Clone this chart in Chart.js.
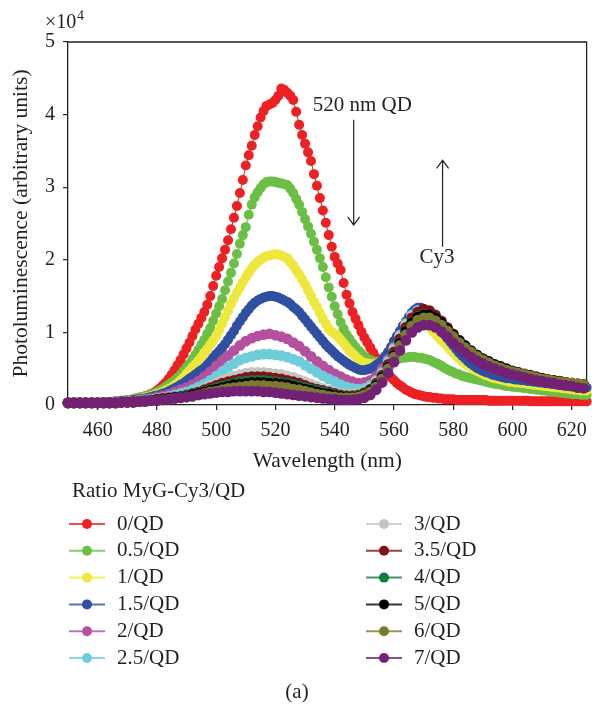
<!DOCTYPE html>
<html>
<head>
<meta charset="utf-8">
<script src="https://cdn.jsdelivr.net/npm/chart.js@4.4.1/dist/chart.umd.min.js"></script>
<style>
  html, body { margin: 0; padding: 0; background: #fff; }
  canvas { display: block; }
</style>
</head>
<body>
<canvas id="plChart" width="592" height="709"></canvas>
<script>
// Emission wavelengths (nm): 1 nm steps for the strong QD spectra, 2 nm for the rest
const wavelengthsFine = [
  450, 451, 452, 453, 454, 455, 456, 457, 458, 459,
  460, 461, 462, 463, 464, 465, 466, 467, 468, 469,
  470, 471, 472, 473, 474, 475, 476, 477, 478, 479,
  480, 481, 482, 483, 484, 485, 486, 487, 488, 489,
  490, 491, 492, 493, 494, 495, 496, 497, 498, 499,
  500, 501, 502, 503, 504, 505, 506, 507, 508, 509,
  510, 511, 512, 513, 514, 515, 516, 517, 518, 519,
  520, 521, 522, 523, 524, 525, 526, 527, 528, 529,
  530, 531, 532, 533, 534, 535, 536, 537, 538, 539,
  540, 541, 542, 543, 544, 545, 546, 547, 548, 549,
  550, 551, 552, 553, 554, 555, 556, 557, 558, 559,
  560, 561, 562, 563, 564, 565, 566, 567, 568, 569,
  570, 571, 572, 573, 574, 575, 576, 577, 578, 579,
  580, 581, 582, 583, 584, 585, 586, 587, 588, 589,
  590, 591, 592, 593, 594, 595, 596, 597, 598, 599,
  600, 601, 602, 603, 604, 605, 606, 607, 608, 609,
  610, 611, 612, 613, 614, 615, 616, 617, 618, 619,
  620, 621, 622, 623, 624, 625
];
const wavelengths = [
  450, 452, 454, 456, 458, 460, 462, 464, 466, 468,
  470, 472, 474, 476, 478, 480, 482, 484, 486, 488,
  490, 492, 494, 496, 498, 500, 502, 504, 506, 508,
  510, 512, 514, 516, 518, 520, 522, 524, 526, 528,
  530, 532, 534, 536, 538, 540, 542, 544, 546, 548,
  550, 552, 554, 556, 558, 560, 562, 564, 566, 568,
  570, 572, 574, 576, 578, 580, 582, 584, 586, 588,
  590, 592, 594, 596, 598, 600, 602, 604, 606, 608,
  610, 612, 614, 616, 618, 620, 622, 624
];

// Photoluminescence, in units of 10^4 (1 nm grid)
const pl0 = [
  0.03, 0.03, 0.03, 0.03, 0.03, 0.03, 0.03, 0.03, 0.03, 0.03,
  0.03, 0.03, 0.04, 0.04, 0.04, 0.04, 0.05, 0.05, 0.06, 0.06,
  0.07, 0.07, 0.08, 0.09, 0.10, 0.11, 0.12, 0.13, 0.15, 0.17,
  0.20, 0.23, 0.27, 0.31, 0.36, 0.42, 0.48, 0.55, 0.62, 0.70,
  0.78, 0.86, 0.95, 1.04, 1.12, 1.20, 1.28, 1.38, 1.50, 1.64,
  1.78, 1.90, 2.02, 2.14, 2.27, 2.42, 2.58, 2.74, 2.92, 3.10,
  3.30, 3.44, 3.57, 3.72, 3.84, 3.96, 4.05, 4.12, 4.14, 4.16,
  4.20, 4.26, 4.36, 4.34, 4.30, 4.26, 4.20, 4.04, 3.86, 3.72,
  3.60, 3.48, 3.36, 3.18, 3.02, 2.85, 2.68, 2.51, 2.34, 2.18,
  2.04, 1.95, 1.86, 1.68, 1.52, 1.40, 1.28, 1.19, 1.10, 1.01,
  0.93, 0.86, 0.79, 0.72, 0.65, 0.59, 0.53, 0.48, 0.43, 0.38,
  0.34, 0.30, 0.27, 0.24, 0.21, 0.19, 0.17, 0.15, 0.14, 0.13,
  0.12, 0.11, 0.11, 0.10, 0.10, 0.09, 0.09, 0.08, 0.08, 0.08,
  0.08, 0.07, 0.07, 0.07, 0.07, 0.07, 0.07, 0.07, 0.07, 0.07,
  0.07, 0.07, 0.06, 0.06, 0.06, 0.06, 0.06, 0.06, 0.06, 0.06,
  0.06, 0.06, 0.06, 0.06, 0.06, 0.06, 0.05, 0.05, 0.05, 0.05,
  0.05, 0.05, 0.05, 0.05, 0.05, 0.05, 0.05, 0.05, 0.05, 0.05,
  0.05, 0.05, 0.05, 0.05, 0.05, 0.05
];
const pl05 = [
  0.03, 0.03, 0.03, 0.03, 0.03, 0.03, 0.03, 0.03, 0.03, 0.03,
  0.03, 0.03, 0.04, 0.04, 0.04, 0.04, 0.05, 0.05, 0.06, 0.06,
  0.07, 0.07, 0.08, 0.09, 0.10, 0.11, 0.12, 0.13, 0.15, 0.16,
  0.18, 0.20, 0.22, 0.25, 0.28, 0.31, 0.34, 0.38, 0.42, 0.47,
  0.52, 0.57, 0.63, 0.69, 0.76, 0.83, 0.90, 0.98, 1.06, 1.16,
  1.26, 1.36, 1.46, 1.58, 1.70, 1.82, 1.95, 2.08, 2.22, 2.34,
  2.45, 2.62, 2.76, 2.86, 2.93, 2.99, 3.04, 3.07, 3.08, 3.08,
  3.07, 3.06, 3.05, 3.04, 3.03, 2.98, 2.92, 2.84, 2.76, 2.66,
  2.56, 2.46, 2.36, 2.25, 2.14, 2.02, 1.90, 1.76, 1.62, 1.49,
  1.36, 1.25, 1.14, 1.05, 0.97, 0.91, 0.85, 0.80, 0.75, 0.71,
  0.67, 0.64, 0.62, 0.60, 0.59, 0.59, 0.59, 0.59, 0.60, 0.61,
  0.62, 0.63, 0.64, 0.65, 0.65, 0.66, 0.66, 0.66, 0.65, 0.65,
  0.64, 0.63, 0.62, 0.60, 0.58, 0.56, 0.54, 0.51, 0.49, 0.47,
  0.45, 0.43, 0.42, 0.40, 0.39, 0.38, 0.37, 0.36, 0.35, 0.34,
  0.33, 0.32, 0.31, 0.30, 0.29, 0.29, 0.28, 0.27, 0.26, 0.26,
  0.25, 0.25, 0.24, 0.24, 0.23, 0.23, 0.22, 0.22, 0.21, 0.21,
  0.20, 0.20, 0.19, 0.19, 0.18, 0.18, 0.17, 0.17, 0.16, 0.16,
  0.15, 0.15, 0.15, 0.14, 0.14, 0.14
];
const pl1 = [
  0.03, 0.03, 0.03, 0.03, 0.03, 0.03, 0.03, 0.03, 0.03, 0.03,
  0.03, 0.03, 0.03, 0.03, 0.04, 0.04, 0.04, 0.04, 0.05, 0.05,
  0.06, 0.06, 0.07, 0.07, 0.08, 0.09, 0.10, 0.11, 0.12, 0.13,
  0.15, 0.16, 0.18, 0.20, 0.22, 0.24, 0.27, 0.30, 0.34, 0.38,
  0.43, 0.47, 0.52, 0.56, 0.61, 0.66, 0.72, 0.77, 0.83, 0.89,
  0.95, 1.03, 1.12, 1.21, 1.30, 1.39, 1.47, 1.55, 1.62, 1.69,
  1.76, 1.82, 1.88, 1.93, 1.97, 2.00, 2.03, 2.05, 2.06, 2.07,
  2.08, 2.07, 2.06, 2.04, 2.02, 1.97, 1.92, 1.86, 1.80, 1.73,
  1.66, 1.58, 1.50, 1.42, 1.35, 1.27, 1.19, 1.12, 1.05, 1.01,
  0.98, 0.94, 0.90, 0.85, 0.80, 0.75, 0.71, 0.67, 0.63, 0.60,
  0.58, 0.57, 0.56, 0.56, 0.57, 0.59, 0.62, 0.66, 0.70, 0.76,
  0.82, 0.89, 0.96, 1.03, 1.10, 1.15, 1.20, 1.22, 1.24, 1.22,
  1.18, 1.12, 1.07, 1.02, 0.98, 0.93, 0.89, 0.85, 0.81, 0.76,
  0.72, 0.68, 0.64, 0.60, 0.57, 0.54, 0.52, 0.49, 0.47, 0.45,
  0.43, 0.41, 0.40, 0.38, 0.37, 0.36, 0.35, 0.34, 0.33, 0.32,
  0.32, 0.31, 0.31, 0.30, 0.30, 0.29, 0.29, 0.28, 0.28, 0.27,
  0.27, 0.26, 0.26, 0.25, 0.25, 0.24, 0.24, 0.23, 0.23, 0.22,
  0.22, 0.21, 0.21, 0.20, 0.20, 0.20
];
const pl15 = [
  0.03, 0.03, 0.03, 0.03, 0.03, 0.03, 0.03, 0.03, 0.03, 0.03,
  0.03, 0.03, 0.03, 0.03, 0.04, 0.04, 0.04, 0.04, 0.05, 0.05,
  0.06, 0.06, 0.07, 0.07, 0.08, 0.08, 0.09, 0.10, 0.11, 0.12,
  0.13, 0.14, 0.16, 0.17, 0.19, 0.21, 0.23, 0.25, 0.28, 0.30,
  0.33, 0.36, 0.39, 0.42, 0.45, 0.48, 0.51, 0.55, 0.60, 0.65,
  0.70, 0.74, 0.79, 0.84, 0.90, 0.96, 1.02, 1.09, 1.15, 1.21,
  1.27, 1.32, 1.37, 1.41, 1.44, 1.46, 1.48, 1.49, 1.50, 1.50,
  1.49, 1.48, 1.46, 1.44, 1.42, 1.39, 1.35, 1.32, 1.28, 1.23,
  1.18, 1.13, 1.08, 1.03, 0.98, 0.93, 0.88, 0.83, 0.79, 0.75,
  0.71, 0.67, 0.64, 0.61, 0.58, 0.55, 0.53, 0.51, 0.49, 0.48,
  0.48, 0.49, 0.50, 0.52, 0.55, 0.58, 0.62, 0.67, 0.73, 0.80,
  0.88, 0.95, 1.02, 1.09, 1.15, 1.21, 1.27, 1.31, 1.34, 1.34,
  1.32, 1.27, 1.22, 1.17, 1.12, 1.07, 1.02, 0.97, 0.92, 0.87,
  0.82, 0.77, 0.72, 0.68, 0.64, 0.60, 0.57, 0.54, 0.51, 0.49,
  0.47, 0.45, 0.44, 0.42, 0.41, 0.40, 0.39, 0.38, 0.37, 0.37,
  0.36, 0.35, 0.35, 0.34, 0.34, 0.33, 0.33, 0.32, 0.32, 0.31,
  0.31, 0.30, 0.30, 0.29, 0.29, 0.28, 0.28, 0.27, 0.27, 0.26,
  0.26, 0.25, 0.25, 0.24, 0.24, 0.24
];

// Photoluminescence, in units of 10^4 (2 nm grid)
const pl2 = [
  0.03, 0.03, 0.03, 0.03, 0.03, 0.03, 0.03, 0.03, 0.04, 0.04,
  0.05, 0.06, 0.07, 0.08, 0.09, 0.11, 0.13, 0.15, 0.18, 0.21,
  0.24, 0.28, 0.33, 0.39, 0.46, 0.54, 0.61, 0.68, 0.75, 0.82,
  0.88, 0.92, 0.95, 0.97, 0.98, 0.96, 0.94, 0.91, 0.86, 0.81,
  0.74, 0.67, 0.60, 0.54, 0.48, 0.43, 0.39, 0.35, 0.32, 0.30,
  0.31, 0.34, 0.40, 0.50, 0.63, 0.80, 0.97, 1.12, 1.24, 1.30,
  1.30, 1.26, 1.19, 1.10, 1.01, 0.92, 0.84, 0.76, 0.70, 0.64,
  0.59, 0.55, 0.51, 0.48, 0.45, 0.43, 0.41, 0.39, 0.37, 0.35,
  0.34, 0.32, 0.31, 0.30, 0.29, 0.28, 0.27, 0.26
];
const pl25 = [
  0.03, 0.03, 0.03, 0.03, 0.03, 0.03, 0.03, 0.03, 0.04, 0.04,
  0.05, 0.05, 0.06, 0.07, 0.08, 0.09, 0.10, 0.12, 0.14, 0.16,
  0.18, 0.21, 0.25, 0.29, 0.34, 0.40, 0.46, 0.52, 0.57, 0.62,
  0.65, 0.67, 0.69, 0.70, 0.70, 0.69, 0.68, 0.66, 0.63, 0.60,
  0.55, 0.50, 0.45, 0.40, 0.36, 0.32, 0.28, 0.25, 0.23, 0.22,
  0.23, 0.27, 0.34, 0.45, 0.60, 0.78, 0.96, 1.12, 1.24, 1.30,
  1.31, 1.27, 1.20, 1.11, 1.02, 0.93, 0.85, 0.77, 0.71, 0.65,
  0.60, 0.56, 0.52, 0.49, 0.46, 0.44, 0.42, 0.40, 0.38, 0.36,
  0.35, 0.33, 0.32, 0.31, 0.30, 0.29, 0.28, 0.27
];
const pl3 = [
  0.03, 0.03, 0.03, 0.03, 0.03, 0.03, 0.03, 0.03, 0.03, 0.04,
  0.04, 0.05, 0.05, 0.06, 0.07, 0.08, 0.09, 0.10, 0.11, 0.12,
  0.14, 0.17, 0.20, 0.23, 0.27, 0.30, 0.34, 0.37, 0.40, 0.42,
  0.44, 0.45, 0.45, 0.45, 0.44, 0.43, 0.42, 0.40, 0.38, 0.35,
  0.32, 0.29, 0.26, 0.23, 0.20, 0.18, 0.16, 0.15, 0.15, 0.16,
  0.19, 0.24, 0.32, 0.43, 0.58, 0.76, 0.94, 1.10, 1.22, 1.28,
  1.30, 1.27, 1.21, 1.13, 1.04, 0.95, 0.87, 0.80, 0.73, 0.67,
  0.62, 0.58, 0.54, 0.51, 0.48, 0.45, 0.43, 0.41, 0.39, 0.37,
  0.36, 0.34, 0.33, 0.32, 0.31, 0.30, 0.29, 0.28
];
const pl35 = [
  0.03, 0.03, 0.03, 0.03, 0.03, 0.03, 0.03, 0.03, 0.03, 0.04,
  0.04, 0.05, 0.05, 0.06, 0.07, 0.08, 0.09, 0.10, 0.11, 0.12,
  0.14, 0.16, 0.18, 0.21, 0.24, 0.27, 0.30, 0.32, 0.34, 0.36,
  0.38, 0.39, 0.39, 0.39, 0.38, 0.37, 0.36, 0.34, 0.32, 0.30,
  0.27, 0.24, 0.22, 0.20, 0.18, 0.16, 0.14, 0.13, 0.13, 0.14,
  0.17, 0.22, 0.30, 0.41, 0.56, 0.73, 0.91, 1.07, 1.20, 1.28,
  1.32, 1.30, 1.24, 1.16, 1.07, 0.98, 0.89, 0.81, 0.74, 0.68,
  0.63, 0.59, 0.55, 0.52, 0.49, 0.46, 0.44, 0.42, 0.40, 0.38,
  0.36, 0.35, 0.33, 0.32, 0.31, 0.30, 0.29, 0.28
];
const pl4 = [
  0.03, 0.03, 0.03, 0.03, 0.03, 0.03, 0.03, 0.03, 0.03, 0.04,
  0.04, 0.04, 0.05, 0.06, 0.06, 0.07, 0.08, 0.09, 0.10, 0.11,
  0.13, 0.15, 0.17, 0.19, 0.21, 0.24, 0.26, 0.28, 0.30, 0.32,
  0.33, 0.34, 0.34, 0.34, 0.33, 0.32, 0.31, 0.30, 0.28, 0.26,
  0.24, 0.22, 0.20, 0.18, 0.16, 0.14, 0.13, 0.12, 0.12, 0.13,
  0.16, 0.21, 0.28, 0.39, 0.53, 0.69, 0.86, 1.02, 1.14, 1.22,
  1.25, 1.24, 1.19, 1.12, 1.04, 0.96, 0.88, 0.80, 0.73, 0.67,
  0.62, 0.58, 0.54, 0.51, 0.48, 0.45, 0.43, 0.41, 0.39, 0.37,
  0.35, 0.34, 0.32, 0.31, 0.30, 0.29, 0.28, 0.27
];
const pl5 = [
  0.03, 0.03, 0.03, 0.03, 0.03, 0.03, 0.03, 0.03, 0.03, 0.04,
  0.04, 0.04, 0.05, 0.05, 0.06, 0.07, 0.08, 0.09, 0.10, 0.11,
  0.12, 0.14, 0.16, 0.18, 0.20, 0.22, 0.24, 0.26, 0.28, 0.29,
  0.30, 0.31, 0.31, 0.31, 0.30, 0.30, 0.29, 0.28, 0.26, 0.24,
  0.22, 0.20, 0.18, 0.16, 0.15, 0.13, 0.12, 0.11, 0.11, 0.12,
  0.15, 0.20, 0.27, 0.38, 0.52, 0.68, 0.85, 1.01, 1.13, 1.21,
  1.24, 1.24, 1.20, 1.13, 1.05, 0.97, 0.89, 0.82, 0.75, 0.69,
  0.64, 0.60, 0.56, 0.53, 0.50, 0.47, 0.45, 0.43, 0.41, 0.39,
  0.37, 0.35, 0.34, 0.33, 0.31, 0.30, 0.29, 0.28
];
const pl6 = [
  0.03, 0.03, 0.03, 0.03, 0.03, 0.03, 0.03, 0.03, 0.03, 0.04,
  0.04, 0.04, 0.05, 0.05, 0.06, 0.06, 0.07, 0.08, 0.09, 0.10,
  0.11, 0.12, 0.14, 0.16, 0.18, 0.19, 0.21, 0.23, 0.24, 0.25,
  0.26, 0.27, 0.27, 0.27, 0.26, 0.26, 0.25, 0.24, 0.22, 0.21,
  0.19, 0.17, 0.15, 0.14, 0.12, 0.11, 0.10, 0.10, 0.10, 0.11,
  0.14, 0.18, 0.25, 0.36, 0.50, 0.66, 0.82, 0.97, 1.09, 1.17,
  1.20, 1.20, 1.16, 1.10, 1.02, 0.94, 0.86, 0.79, 0.73, 0.67,
  0.62, 0.58, 0.54, 0.51, 0.48, 0.46, 0.44, 0.42, 0.40, 0.38,
  0.36, 0.35, 0.33, 0.32, 0.31, 0.30, 0.29, 0.28
];
const pl7 = [
  0.03, 0.03, 0.03, 0.03, 0.03, 0.03, 0.03, 0.03, 0.03, 0.04,
  0.04, 0.04, 0.05, 0.05, 0.06, 0.06, 0.07, 0.08, 0.09, 0.10,
  0.11, 0.12, 0.14, 0.15, 0.16, 0.17, 0.18, 0.18, 0.19, 0.19,
  0.19, 0.19, 0.19, 0.18, 0.18, 0.17, 0.16, 0.15, 0.14, 0.13,
  0.12, 0.11, 0.10, 0.09, 0.08, 0.08, 0.07, 0.07, 0.07, 0.08,
  0.10, 0.14, 0.21, 0.31, 0.44, 0.59, 0.75, 0.89, 1.00, 1.07,
  1.10, 1.10, 1.07, 1.01, 0.94, 0.86, 0.79, 0.72, 0.66, 0.61,
  0.57, 0.53, 0.50, 0.47, 0.44, 0.42, 0.40, 0.38, 0.36, 0.34,
  0.33, 0.31, 0.30, 0.28, 0.27, 0.26, 0.24, 0.23
];

const seriesLabels = ['0/QD', '0.5/QD', '1/QD', '1.5/QD', '2/QD', '2.5/QD',
                      '3/QD', '3.5/QD', '4/QD', '5/QD', '6/QD', '7/QD'];
const seriesValues = [pl0, pl05, pl1, pl15, pl2, pl25, pl3, pl35, pl4, pl5, pl6, pl7];
const seriesGrid = [wavelengthsFine, wavelengthsFine, wavelengthsFine, wavelengthsFine,
                    wavelengths, wavelengths, wavelengths, wavelengths,
                    wavelengths, wavelengths, wavelengths, wavelengths];
const seriesColors = ['#ed2024', '#6cbf45', '#efe83c', '#2f4fa2', '#b5509f', '#6dcdd9',
                      '#c4c4c4', '#7d1315', '#127c3d', '#000000', '#7b7b30', '#732174'];

const xTickValues = [460, 480, 500, 520, 540, 560, 580, 600, 620];
const yTickValues = [0, 1, 2, 3, 4, 5];

// text notes and arrows, in data units (nm, x10^4)
const qdNote = { text: '520 nm QD', x: 532.6, y: 4.13 };
const cy3Note = { text: 'Cy3', x: 568.6, y: 2.03 };
const qdArrow = { x: 546.4, from: 3.93, to: 2.48 };
const cy3Arrow = { x: 576.4, from: 2.18, to: 3.37 };

const legendTitle = 'Ratio MyG-Cy3/QD';
const panelLabel = '(a)';

const textColor = '#231f20';
const serif = "'Liberation Serif', 'DejaVu Serif', serif";

function arrow(ctx, x, y0, y1) {
  const dir = y1 > y0 ? 1 : -1;
  ctx.beginPath();
  ctx.moveTo(x, y0);
  ctx.lineTo(x, y1);
  ctx.moveTo(x - 6, y1 - dir * 8);
  ctx.lineTo(x, y1);
  ctx.lineTo(x + 6, y1 - dir * 8);
  ctx.stroke();
}

const extras = {
  id: 'extras',
  beforeDatasetsDraw(chart) {
    // closing top and right sides of the frame
    const { ctx, chartArea: a } = chart;
    ctx.save();
    ctx.strokeStyle = '#222';
    ctx.lineWidth = 1.3;
    ctx.beginPath();
    ctx.moveTo(a.left, a.top);
    ctx.lineTo(a.right, a.top);
    ctx.lineTo(a.right, a.bottom);
    ctx.stroke();
    ctx.restore();
  },
  afterDraw(chart) {
    const { ctx, scales: { x, y } } = chart;
    ctx.save();
    ctx.fillStyle = textColor;
    ctx.strokeStyle = textColor;
    ctx.lineWidth = 1.2;

    // exponent of the y axis
    ctx.textBaseline = 'alphabetic';
    ctx.textAlign = 'left';
    ctx.font = `20px ${serif}`;
    ctx.fillText('\u00d710', 45, 28);
    ctx.font = `14px ${serif}`;
    ctx.fillText('4', 77, 20);

    // notes inside the plot
    ctx.font = `21px ${serif}`;
    ctx.textBaseline = 'middle';
    ctx.fillText(qdNote.text, x.getPixelForValue(qdNote.x), y.getPixelForValue(qdNote.y));
    ctx.fillText(cy3Note.text, x.getPixelForValue(cy3Note.x), y.getPixelForValue(cy3Note.y));
    arrow(ctx, x.getPixelForValue(qdArrow.x), y.getPixelForValue(qdArrow.from), y.getPixelForValue(qdArrow.to));
    arrow(ctx, x.getPixelForValue(cy3Arrow.x), y.getPixelForValue(cy3Arrow.from), y.getPixelForValue(cy3Arrow.to));

    // legend: title, then two columns of six
    ctx.fillText(legendTitle, 72, 491);
    const rowY = 524, rowStep = 26.8;
    const cols = [69, 366];
    seriesLabels.forEach((label, i) => {
      const cx = cols[Math.floor(i / 6)];
      const cy = rowY + (i % 6) * rowStep;
      ctx.globalAlpha = 0.8;
      ctx.strokeStyle = seriesColors[i];
      ctx.lineWidth = 2;
      ctx.beginPath();
      ctx.moveTo(cx, cy);
      ctx.lineTo(cx + 36, cy);
      ctx.stroke();
      ctx.globalAlpha = 1;
      ctx.fillStyle = seriesColors[i];
      ctx.beginPath();
      ctx.arc(cx + 18, cy, 5, 0, Math.PI * 2);
      ctx.fill();
      ctx.fillStyle = textColor;
      ctx.fillText(label, cx + 48, cy);
    });

    ctx.textAlign = 'center';
    ctx.fillText(panelLabel, 297, 692);
    ctx.restore();
  }
};

const datasets = seriesLabels.map((label, i) => ({
  label: label,
  data: seriesGrid[i].map((w, k) => ({ x: w, y: seriesValues[i][k] })),
  borderColor: seriesColors[i],
  backgroundColor: seriesColors[i],
  pointBackgroundColor: seriesColors[i],
  pointBorderWidth: 0,
  pointRadius: seriesGrid[i] === wavelengthsFine ? 5 : 5.4,
  borderWidth: 1,
  fill: false,
  clip: false,
  order: seriesLabels.length - i
}));

const tickFont = { family: serif, size: 20 };
const titleFont = { family: serif, size: 21.5 };

new Chart(document.getElementById('plChart'), {
  type: 'line',
  data: { datasets },
  options: {
    responsive: false,
    animation: false,
    events: [],
    layout: { padding: { top: 42, right: 4, bottom: 235, left: 0 } },
    plugins: { legend: { display: false }, tooltip: { enabled: false } },
    scales: {
      x: {
        type: 'linear',
        min: 450,
        max: 625,
        afterBuildTicks: s => { s.ticks = xTickValues.map(v => ({ value: v })); },
        afterFit: s => { s.height = 69; s.paddingLeft = 0; s.paddingRight = 0; },
        ticks: { font: tickFont, color: textColor, padding: 9, maxRotation: 0 },
        grid: { drawOnChartArea: false, tickLength: 5, color: '#222', lineWidth: 1.2 },
        border: { display: true, color: '#222', width: 1.3 },
        title: { display: true, text: 'Wavelength (nm)', color: textColor,
                 font: titleFont, padding: { top: 0, bottom: 0 } }
      },
      y: {
        min: 0,
        max: 5,
        afterBuildTicks: s => { s.ticks = yTickValues.map(v => ({ value: v })); },
        afterFit: s => { s.width = 68; s.paddingTop = 0; s.paddingBottom = 0; },
        ticks: { font: tickFont, color: textColor, padding: 8 },
        grid: { drawOnChartArea: false, tickLength: 5, color: '#222', lineWidth: 1.2 },
        border: { display: true, color: '#222', width: 1.3 },
        title: { display: true, text: 'Photoluminescence (arbitrary units)', color: textColor,
                 font: titleFont, padding: { top: 8, bottom: 0 } }
      }
    }
  },
  plugins: [extras]
});
</script>
</body>
</html>
